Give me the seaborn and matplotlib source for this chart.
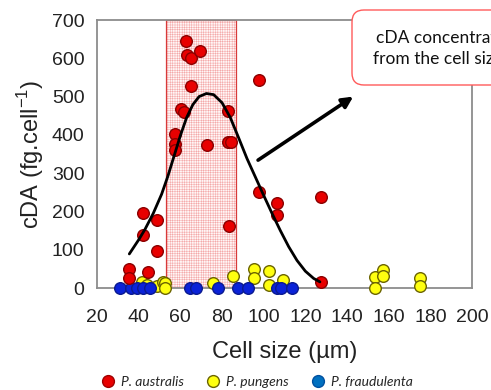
import numpy as np
import pandas as pd
import matplotlib
matplotlib.use('Agg')
import matplotlib.pyplot as plt
from matplotlib.lines import Line2D
from matplotlib.patches import FancyBboxPatch
from matplotlib.transforms import IdentityTransform
import seaborn as sns

# P. australis
aus_x = [62.7, 63.2, 65.0, 69.4, 65.0, 60.3, 61.8, 57.4, 57.4, 57.4, 72.8, 82.9, 82.9, 84.2,
         97.8, 83.4, 97.8, 106.4, 106.4, 127.5, 127.5, 42.1, 48.8, 42.1, 48.8, 35.4, 35.4, 44.5]
aus_y = [645, 608, 600, 619, 527, 467, 460, 402, 376, 360, 373, 462, 381, 381,
         543, 163, 251, 222, 190, 238, 16, 196, 178, 138, 97, 50, 26, 42]
# P. pungens
pun_x = [41.6, 44.0, 48.8, 51.7, 52.6, 52.6, 75.5, 85.5, 95.4, 95.4, 102.6, 102.6, 109.3,
         153.5, 153.5, 157.3, 157.3, 175.0, 175.0]
pun_y = [15, 8, 6, 15, 13, 1, 14, 32, 50, 26, 45, 8, 20, 28, 0, 47, 31, 27, 5]
# P. fraudulenta
fra_x = [31.0, 36.3, 39.2, 42.0, 45.4, 64.6, 67.5, 78.3, 87.5, 92.5, 106.5, 108.5, 113.6]
fra_y = [0, 0, 0, 0, 0, 0, 0, 0, 0, 0, 0, 0, 0]

# fitted curve
fit_x = [35.5, 40, 43, 47, 51, 54, 57, 60, 63, 66, 69, 72.5, 76, 80, 84, 88, 92, 96,
         100, 104, 108, 112, 116, 120, 124, 127]
fit_y = [89, 126, 153, 195, 245, 292, 345, 398, 445, 479, 500, 508, 505, 484, 445, 392, 338, 290,
         242, 195, 150, 108, 72, 44, 25, 16]

band_lo, band_hi = 53.2, 86.6

sns.set_style('white')
plt.rcParams['font.family'] = ['Liberation Sans', 'DejaVu Sans']
plt.rcParams['hatch.linewidth'] = 0.3

fig = plt.figure(figsize=(4.91, 3.9), dpi=100)
ax = fig.add_axes([0.1976, 0.2615, 0.7637, 0.6872])

# shaded size range: pink dotted fill + red outline
ax.axvspan(band_lo, band_hi, facecolor='#fff6f6', edgecolor='#f29a9a',
           hatch='+++++++', linewidth=0, zorder=1)
ax.axvspan(band_lo, band_hi, facecolor='none', edgecolor='#d83a3a', linewidth=0.9, zorder=1.1)

df_aus = pd.DataFrame({'x': aus_x, 'y': aus_y})
df_pun = pd.DataFrame({'x': pun_x, 'y': pun_y})
df_fra = pd.DataFrame({'x': fra_x, 'y': fra_y})

kw = dict(s=70, linewidth=1.0, clip_on=False, zorder=3, legend=False)
sns.scatterplot(ax=ax, data=df_pun, x='x', y='y', color='#ffff10', edgecolor='#6b6400', **kw)
sns.scatterplot(ax=ax, data=df_fra, x='x', y='y', color='#0a22d8', edgecolor='#0a1a90', **kw)
sns.scatterplot(ax=ax, data=df_aus, x='x', y='y', color='#e80000', edgecolor='#8a0000', **kw)

sns.lineplot(ax=ax, x=fit_x, y=fit_y, color='black', linewidth=2.0, zorder=4, sort=False)

ax.set_xlim(20, 200)
ax.set_ylim(0, 700)
ax.set_xticks(np.arange(20, 201, 20))
ax.set_yticks(np.arange(0, 701, 100))
for s in ax.spines.values():
    s.set_color('#8c8c8c')
    s.set_linewidth(1.3)
ax.tick_params(axis='both', which='major', direction='out', length=4, width=1.2,
               color='#8c8c8c', labelsize=14, labelcolor='#222222')
ax.tick_params(axis='x', pad=11)
ax.tick_params(axis='y', pad=5)
ax.set_xlabel('Cell size (µm)', fontsize=17, color='#222222')
ax.set_ylabel(r'cDA (fg.cell$^{\mathregular{-1}}$)', fontsize=17, color='#222222')
ax.xaxis.set_label_coords(0.5, -0.196)
ax.yaxis.set_label_coords(-0.136, 0.5)

ax.annotate('', xy=(143, 500), xytext=(97.3, 334),
            arrowprops=dict(arrowstyle='-|>', color='black', lw=2.6, mutation_scale=16,
                            shrinkA=0, shrinkB=0), zorder=5)

# callout box (cut by the figure edge, as in the source)
box = FancyBboxPatch((352, 305), 220, 75, boxstyle='round,pad=0,rounding_size=12',
                     transform=IdentityTransform(), facecolor='white', edgecolor='#ff5a5a',
                     linewidth=1.0, zorder=10)
fig.add_artist(box)
fig.text(376 / 491, 1 - 38 / 390, 'cDA concentration is independent', fontsize=12.5,
         family=['Lato', 'DejaVu Sans'], color='#111111', ha='left', va='center', zorder=11)
fig.text(373 / 491, 1 - 59 / 390, 'from the cell size', fontsize=12.5,
         family=['Lato', 'DejaVu Sans'], color='#111111', ha='left', va='center', zorder=11)

handles = [
    Line2D([], [], marker='o', linestyle='none', markersize=8.5, markerfacecolor='#e80000',
           markeredgecolor='#a00000', label='P. australis'),
    Line2D([], [], marker='o', linestyle='none', markersize=8.5, markerfacecolor='#ffff10',
           markeredgecolor='#6b6400', label='P. pungens'),
    Line2D([], [], marker='o', linestyle='none', markersize=8.5, markerfacecolor='#0070c0',
           markeredgecolor='#0050a0', label='P. fraudulenta'),
]
fig.legend(handles=handles, loc='center', bbox_to_anchor=(0.522, 0.021), ncol=3,
           frameon=False, prop=dict(family=['Lato', 'DejaVu Sans'], style='italic', size=10),
           handletextpad=0.35, columnspacing=1.5, borderpad=0, handlelength=1.2)

fig.savefig('out.png', dpi=100)
